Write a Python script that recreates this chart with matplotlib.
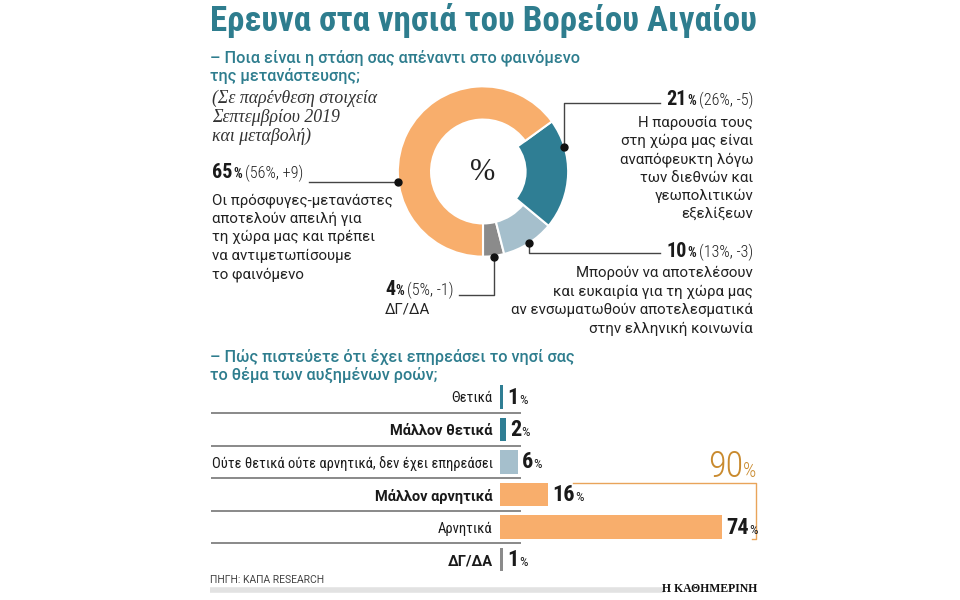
import matplotlib
matplotlib.use('Agg')
import matplotlib.pyplot as plt
from matplotlib import font_manager

# donut data (current, September 2019)
pie_values = [65, 21, 10, 4]
pie_prev = [56, 26, 13, 5]
pie_texts = [
    ['Οι πρόσφυγες-μετανάστες', 'αποτελούν απειλή για', 'τη χώρα μας και πρέπει',
     'να αντιμετωπίσουμε', 'το φαινόμενο'],
    ['Η παρουσία τους', 'στη χώρα μας είναι', 'αναπόφευκτη λόγω',
     'των διεθνών και', 'γεωπολιτικών', 'εξελίξεων'],
    ['Μπορούν να αποτελέσουν', 'και ευκαιρία για τη χώρα μας',
     'αν ενσωματωθούν αποτελεσματικά', 'στην ελληνική κοινωνία'],
    ['ΔΓ/ΔΑ'],
]

# bar data
bar_labels = ['Θετικά', 'Μάλλον θετικά', 'Ούτε θετικά ούτε αρνητικά, δεν έχει επηρεάσει',
              'Μάλλον αρνητικά', 'Αρνητικά', 'ΔΓ/ΔΑ']
bar_values = [1, 2, 6, 16, 74, 1]
bar_bold = [False, True, False, True, False, True]

ORANGE = '#F8AE6C'
TEAL = '#2F7E94'
LIGHT = '#A5BFCC'
GREY = '#8B8B8B'
TITLE_C = '#2E7D8E'
pie_colors = [ORANGE, TEAL, LIGHT, GREY]
bar_colors = [TEAL, TEAL, LIGHT, ORANGE, ORANGE, GREY]


def find_condensed():
    # look for a narrow sans with regular and bold files
    fonts = font_manager.fontManager.ttflist
    for fam in ['Roboto Condensed', 'Liberation Sans Narrow', 'DejaVu Sans Condensed']:
        reg = [f for f in fonts if f.name == fam and f.style == 'normal' and f.weight in (400, 'normal', 'regular')]
        bold = [f for f in fonts if f.name == fam and f.style == 'normal' and f.weight in (700, 'bold')]
        light = [f for f in fonts if f.name == fam and f.style == 'normal' and f.weight in (300, 'light')]
        if reg and bold:
            return reg[0].fname, bold[0].fname, (light or reg)[0].fname
    return None, None, None


COND_R, COND_B, COND_L = find_condensed()


def cond(bold=False, light=False, **kw):
    f = COND_B if bold else (COND_L if light else COND_R)
    if f:
        kw['fontproperties'] = font_manager.FontProperties(fname=f, size=kw.pop('fontsize', 10))
    else:
        kw['family'] = 'Liberation Sans'
        if bold:
            kw['weight'] = 'bold'
    return kw


BODY = 'Roboto'
SERIF = 'Liberation Serif'
BODY_SIZE = 10.8

fig = plt.figure(figsize=(9.6, 6), dpi=100)
fig.patch.set_facecolor('white')

# base axes in pixel coordinates for texts and leaders
ax = fig.add_axes([0, 0, 1, 1])
ax.set_xlim(0, 960)
ax.set_ylim(600, 0)
ax.axis('off')
ax.set_zorder(5)

renderer = fig.canvas.get_renderer()


def pieces(x, y, parts, ha='left'):
    # parts: (text, kwargs, gap before)
    objs = []
    for s, kw, gap in parts:
        objs.append((ax.text(0, y, s, va='baseline', **kw), gap))
    widths = [t.get_window_extent(renderer).width for t, g in objs]
    total = sum(widths) + sum(g for t, g in objs)
    cur = x - total if ha == 'right' else x
    for (t, g), w in zip(objs, widths):
        cur += g
        t.set_x(cur)
        cur += w
    return cur - total, cur


def pct_label(x, y, val, prev, ha='left', size=14.5):
    parts = [(str(val), cond(True, fontsize=size, color='#1a1a1a'), 0),
             ('%', cond(True, fontsize=size * 0.68, color='#1a1a1a'), 0.5)]
    if prev is not None:
        parts.append((f'({prev}%, {val - prev:+d})', cond(light=True, fontsize=size * 0.8, color='#222222'), 3))
    return pieces(x, y, parts, ha)


# title
title = ax.text(210, 31, 'Ερευνα στα νησιά του Βορείου Αιγαίου', va='baseline',
                **cond(True, fontsize=26, color=TITLE_C))
w = title.get_window_extent(renderer).width
title.set_fontsize(26 * 547 / w)

ax.text(210, 62, '– Ποια είναι η στάση σας απέναντι στο φαινόμενο', family=BODY, weight='medium',
        fontsize=11.7, color=TITLE_C, va='baseline')
ax.text(210, 81, 'της μετανάστευσης;', family=BODY, weight='medium',
        fontsize=11.7, color=TITLE_C, va='baseline')

for i, s in enumerate(['(Σε παρένθεση στοιχεία', 'Σεπτεμβρίου 2019', 'και μεταβολή)']):
    ax.text(212, 103 + 19 * i, s, family=SERIF, style='italic', fontsize=12.8,
            color='#333333', va='baseline')

# donut
ax_pie = fig.add_axes([397 / 960, 1 - 257.5 / 600, 172 / 960, 172 / 600])
wedges, _ = ax_pie.pie(pie_values[::-1], colors=pie_colors[::-1], startangle=270,
                       counterclock=True, radius=1,
                       wedgeprops=dict(width=0.39, edgecolor='white', linewidth=1.5))
wedges[2].set_width(0.5)
ax_pie.set_xlim(-1.01, 1.01)
ax_pie.set_ylim(-1.01, 1.01)
ax_pie.axis('off')
ax.text(483, 172, '%', family=SERIF, fontsize=22, color='#222222', ha='center', va='center')

LEAD = dict(color='#444444', lw=1)
DOT = dict(marker='o', ms=5, color='#111111', zorder=5)

# 65%
x0, x1 = pct_label(212, 178, pie_values[0], pie_prev[0])
ax.plot([x1 + 6, 398], [182, 182], **LEAD)
ax.plot(398, 182, **DOT)
for i, s in enumerate(pie_texts[0]):
    ax.text(212, 204 + 18.7 * i, s, family=BODY, fontsize=BODY_SIZE, color='#222222', va='baseline')

# 21%
x0, x1 = pct_label(753, 105, pie_values[1], pie_prev[1], ha='right')
ax.plot([x0 - 6, 564, 564], [103, 103, 147], **LEAD)
ax.plot(564, 147, **DOT)
for i, s in enumerate(pie_texts[1]):
    ax.text(753, 127 + 18.2 * i, s, family=BODY, fontsize=BODY_SIZE, color='#222222',
            va='baseline', ha='right')

# 10%
x0, x1 = pct_label(753, 257, pie_values[2], pie_prev[2], ha='right')
ax.plot([x0 - 6, 529, 529], [253, 253, 243], **LEAD)
ax.plot(529, 243, **DOT)
for i, s in enumerate(pie_texts[2]):
    ax.text(753, 277 + 18.6 * i, s, family=BODY, fontsize=BODY_SIZE, color='#222222',
            va='baseline', ha='right')

# 4%
x0, x1 = pct_label(385, 295, pie_values[3], pie_prev[3])
ax.plot([x1 + 5, 494, 494], [295, 295, 257], **LEAD)
ax.plot(494, 257, **DOT)
ax.text(385, 313, pie_texts[3][0], family=BODY, fontsize=BODY_SIZE, color='#222222', va='baseline')

# second question
ax.text(210, 362, '– Πώς πιστεύετε ότι έχει επηρεάσει το νησί σας', family=BODY, weight='medium',
        fontsize=11.7, color=TITLE_C, va='baseline')
ax.text(210, 380, 'το θέμα των αυξημένων ροών;', family=BODY, weight='medium',
        fontsize=11.7, color=TITLE_C, va='baseline')

# bars
ax_bar = fig.add_axes([500 / 960, 1 - 575.75 / 600, 300 / 960, 195 / 600])
ax_bar.set_xlim(0, 100)
ax_bar.set_ylim(5.5, -0.5)
ax_bar.axis('off')
ypos = list(range(len(bar_values)))
ax_bar.barh(ypos, bar_values, height=0.71, color=bar_colors)
ax_bar.hlines([y + 0.5 for y in ypos[:-1]], -96.3, 7, color='#808080', lw=1.3, clip_on=False)

for y, lab, v, b in zip(ypos, bar_labels, bar_values, bar_bold):
    if b:
        kw = dict(family=BODY, weight='bold', fontsize=10.5)
    else:
        kw = cond(fontsize=10.5)
    ax_bar.text(-2.4, y, lab, color='#1a1a1a', ha='right', va='center_baseline', clip_on=False, **kw)
    px, py = ax.transData.inverted().transform(ax_bar.transData.transform((v, y)))
    pieces(px + 4, py + 6.5, [(str(v), cond(True, fontsize=16, color='#1a1a1a'), 0),
                              ('%', cond(False, fontsize=9.5, color='#1a1a1a'), 0.5)])

# bracket for negative answers
neg_total = bar_values[3] + bar_values[4]
ax_bar.plot([24.3, 85.3, 85.3, 84], [3 - 0.355, 3 - 0.355, 4 + 0.355, 4 + 0.355],
            color='#E9A45A', lw=1, clip_on=False)
px, py = ax.transData.inverted().transform(ax_bar.transData.transform((69.3, 2.45)))
pieces(px, py, [(str(neg_total), cond(light=True, fontsize=26, color='#C98A2E'), 0),
                ('%', cond(light=True, fontsize=15, color='#C98A2E'), 0)])

# footer
ax.text(210, 583, 'ΠΗΓΗ: ΚΑΠΑ RESEARCH', family=BODY, fontsize=7.5, color='#444444', va='baseline')
ax.plot([210, 664], [590, 590], color='#E2E2E2', lw=4, solid_capstyle='butt')
ax.text(757, 592, 'Η ΚΑΘΗΜΕΡΙΝΗ', family=SERIF, weight='bold', fontsize=8.5, color='#111111',
        va='baseline', ha='right')

fig.savefig('out.png', dpi=100, facecolor='white')
